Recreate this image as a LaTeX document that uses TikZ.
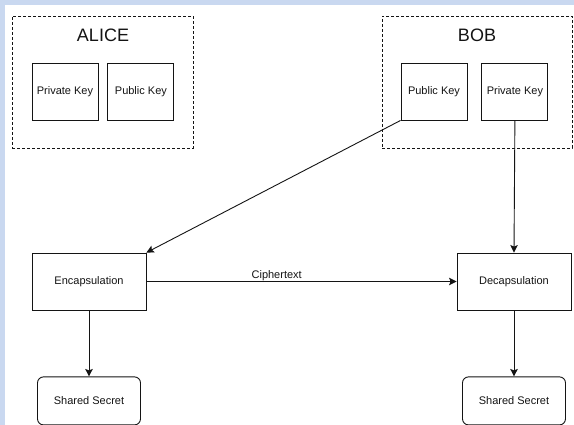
\documentclass[tikz,border=0pt]{standalone}
\usepackage{fontspec}
\setmainfont{Liberation Sans}
\usetikzlibrary{positioning,arrows.meta}
\definecolor{pagebg}{RGB}{201,216,240}
\definecolor{ink}{RGB}{20,20,20}
\begin{document}
\begin{tikzpicture}[x=1pt,y=-1pt,>={Stealth[length=7.5pt,width=7.5pt,inset=1.5pt]},line width=0.9pt,draw=ink,
  every node/.style={font=\fontsize{11}{13}\selectfont,text=ink},
  key node/.style={draw,minimum width=66pt,minimum height=57pt,inner sep=0pt},
  step node/.style={draw,minimum width=114pt,minimum height=57pt,inner sep=0pt},
  secret node/.style={draw,rounded corners=6pt,minimum width=103pt,minimum height=48pt,inner sep=0pt},
  group box/.style={draw,dash pattern=on 3pt off 2pt,line width=0.7pt,minimum width=181pt,minimum height=132pt,inner sep=0pt},
  title/.style={font=\fontsize{18}{22}\selectfont}]

  % page
  \fill[pagebg] (0,0) rectangle (574,425);
  \fill[white] (5,5) rectangle (574,425);
  \useasboundingbox (0,0) rectangle (574,425);

  % Alice
  \node[group box] (alice) at (102.5,82) {};
  \node[title] (alicename) at (103,35) {ALICE};
  \node[key node] (alicepriv) at (65,91.5) {Private Key};
  \node[key node] (alicepub) [right=9pt of alicepriv] {Public Key};

  % Bob
  \node[group box,minimum width=190pt] (bob) at (477,82) {};
  \node[title] (bobname) at (477,35) {BOB};
  \node[key node] (bobpub) at (434,91.5) {Public Key};
  \node[key node] (bobpriv) [right=14pt of bobpub] {Private Key};

  % steps
  \node[step node] (encap) at (89,281.5) {Encapsulation};
  \node[step node] (decap) at (514,281.5) {Decapsulation};
  \node[secret node] (secretA) [below=66pt of encap] {Shared Secret};
  \node[secret node] (secretB) [below=66pt of decap] {Shared Secret};

  \draw[->] (bobpub.south west) -- (encap.north east);
  \draw[->] (bobpriv.south) -- (decap.north);
  \draw[->] (encap) -- node[above,pos=0.42,inner sep=0pt] {Ciphertext} (decap);
  \draw[->] (encap) -- (secretA);
  \draw[->] (decap) -- (secretB);
\end{tikzpicture}
\end{document}
